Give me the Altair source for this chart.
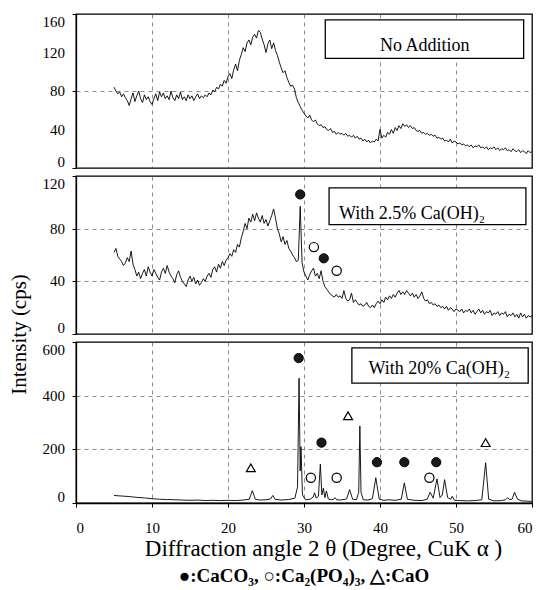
import altair as alt
import pandas as pd

# ---------------- data ----------------
# 2-theta sampling grid for the two amorphous patterns (degrees)
angles = [round(5 + 0.25 * i, 2) for i in range(221)]

# Panel 1: No Addition (cps)
no_addition = [
    84, 80, 77, 79, 74, 77, 73, 70, 65, 72, 78, 69, 75, 80, 72, 68, 76, 71, 74, 69, 66,
    72, 77, 70, 79, 74, 78, 72, 75, 71, 80, 73, 70, 76, 72, 79, 71, 74, 70, 76, 72,
    75, 70, 74, 77, 72, 75, 73, 76, 74, 78, 76, 81, 79, 84, 82, 87, 85, 91, 88, 95,
    98, 93, 102, 108, 101, 112, 118, 125, 121, 130, 133, 128, 136, 139, 135, 143, 141, 134, 128, 120,
    129, 133, 124, 130, 122, 117, 110, 104, 99, 101, 94, 89, 85, 86, 82, 73, 68, 64, 60, 57,
    54, 52, 55, 50, 48, 50, 46, 44, 45, 42, 43, 40, 39, 41, 37, 38, 35, 37, 35, 36,
    34, 36, 33, 34, 32, 34, 31, 33, 30, 31, 28, 30, 27, 29, 26, 28, 27, 30, 28, 40,
    31, 34, 32, 37, 35, 40, 36, 42, 39, 44, 41, 46, 43, 45, 42, 44, 41, 42, 39, 38,
    39, 36, 37, 35, 36, 34, 35, 33, 34, 31, 32, 30, 31, 28, 29, 27, 30, 26, 28, 27,
    25, 26, 24, 25, 23, 24, 22, 24, 21, 23, 22, 24, 21, 22, 20, 22, 19, 21, 20, 22,
    19, 21, 18, 20, 19, 21, 18, 19, 17, 20, 18, 17, 19, 16, 18, 17, 15, 18, 16, 17,
]

# Panel 2: With 2.5% Ca(OH)2 (cps)
with_2_5 = [
    62, 65, 59, 57, 55, 52, 54, 58, 55, 63, 53, 49, 44, 47, 42, 46, 49, 44, 51, 47, 44,
    49, 46, 43, 41, 47, 50, 46, 52, 47, 44, 42, 39, 45, 48, 43, 40, 38, 36, 41, 44,
    40, 43, 38, 41, 37, 39, 42, 40, 44, 46, 43, 49, 51, 47, 53, 50, 55, 52, 56, 58,
    61, 59, 64, 62, 68, 66, 73, 78, 84, 80, 88, 85, 91, 86, 92, 88, 85, 90, 84, 87,
    82, 86, 90, 95, 88, 80, 76, 70, 74, 68, 71, 65, 63, 60, 58, 55, 56, 97, 54, 47,
    44, 41, 45, 48, 50, 44, 46, 42, 48, 40, 36, 34, 32, 30, 29, 28, 30, 28, 29, 27,
    33, 27, 25, 26, 31, 24, 26, 24, 22, 23, 21, 22, 24, 21, 20, 22, 20, 23, 25, 23,
    26, 24, 28, 26, 29, 27, 30, 28, 31, 33, 30, 32, 30, 33, 31, 29, 31, 28, 30, 27,
    29, 32, 27, 25, 26, 23, 24, 22, 23, 21, 22, 20, 21, 19, 21, 18, 20, 19, 17, 19,
    18, 17, 19, 16, 18, 17, 19, 16, 18, 15, 17, 19, 16, 18, 15, 17, 16, 18, 14, 16,
    15, 17, 14, 16, 15, 17, 13, 15, 14, 16, 13, 15, 12, 16, 13, 15, 12, 14, 13, 14,
]

# Panel 3: With 20% Ca(OH)2 (crystalline peaks)
angles_20 = [
    5.0, 6, 7, 8, 9, 10, 11, 12, 13, 14, 15, 16, 17, 18, 19, 20, 21, 22, 22.8, 23.2,
    23.6, 24.2, 25.0, 25.6, 25.9, 26.2, 27, 28, 28.8, 29.15, 29.35, 29.5, 29.6, 29.8,
    30.2, 30.8, 31.2, 31.4, 31.6, 31.9, 32.15, 32.35, 32.55, 32.75, 32.95, 33.2, 33.6,
    33.9, 34.1, 34.3, 34.8, 35.6, 36.0, 36.4, 36.9, 37.2, 37.35, 37.5, 37.8, 38.4, 39.0,
    39.45, 39.9, 40.5, 41.2, 42.0, 42.8, 43.2, 43.6, 44.5, 45.5, 46.2, 46.6, 47.0, 47.5,
    47.9, 48.2, 48.5, 48.9, 49.3, 49.5, 49.8, 50.5, 51.5, 52.5, 53.4, 53.9, 54.3, 55.0,
    56.0, 56.5, 56.8, 57.1, 57.4, 57.7, 58.1, 58.6, 59.2, 59.9,
]
with_20 = [
    28, 26, 24, 21, 19, 16, 14, 13, 12, 11, 10, 11, 9, 10, 9, 10, 9, 11, 14, 46,
    14, 11, 12, 15, 28, 14, 11, 13, 18, 60, 465, 120, 210, 30,
    12, 14, 22, 38, 18, 25, 145, 30, 55, 20, 45, 15, 12,
    14, 20, 12, 11, 15, 50, 14, 12, 40, 287, 40, 12, 11, 16,
    94, 14, 10, 12, 10, 14, 75, 14, 10, 9, 14, 40, 18, 90,
    20, 30, 87, 20, 14, 25, 10, 9, 8, 9, 12, 150, 14, 8,
    9, 12, 20, 12, 15, 40, 14, 8, 7, 6,
]

# phase markers (angle, intensity) per panel
caco3_b = [(29.5, 106), (32.6, 57.5)]
ca3po4_b = [(31.3, 66), (34.3, 48)]
caco3_c = [(29.3, 540), (32.3, 225), (39.6, 152), (43.2, 152), (47.4, 152)]
ca3po4_c = [(30.9, 94), (34.3, 94), (46.5, 94)]
cao_c = [(23.0, 131), (35.8, 325), (53.9, 225)]

# y tick values (grid) and labelled values per panel
yticks_a, ylabels_a = [0, 20, 40, 60, 80, 100, 120, 140, 160], [0, 40, 80, 120, 160]
yticks_b, ylabels_b = [0, 20, 40, 60, 80, 100, 120], [0, 40, 80, 120]
yticks_c, ylabels_c = [0, 100, 200, 300, 400, 500, 600], [0, 200, 400, 600]
xticks = [0, 10, 20, 30, 40, 50, 60]

# labels in boxes: text, x1, x2, y1, y2, text x, text y (data units)
labels = [
    ("No Addition", 32.8, 58.9, 114, 154, 45.9, 127),
    ("With 2.5% Ca(OH)\u2082", 33.3, 59.2, 83, 111, 44.2, 91),
    ("With 20% Ca(OH)\u2082", 36.3, 59.5, 447, 578, 47.8, 499),
]
legend_text = "\u25cf:CaCO\u2083,  \u25cb:Ca\u2082(PO\u2084)\u2083,  \u25b3:CaO"

FONT = "Liberation Serif"
W = 456


def xs():
    return alt.Scale(domain=[0, 60], nice=False)


def ys(ymax):
    return alt.Scale(domain=[0, ymax], nice=False)


def xenc(show):
    if show:
        ax = alt.Axis(values=xticks, grid=True, labels=True, ticks=True,
                      tickSize=4, labelPadding=13, labelFontSize=15,
                      title="Diffraction angle 2 \u03b8 (Degree, CuK \u03b1 )",
                      titleFontSize=23, titleFontWeight="normal", titlePadding=2, titleX=247)
    else:
        ax = alt.Axis(values=xticks, grid=True, labels=False, ticks=False,
                      domain=False, title=None)
    return alt.X("a:Q", scale=xs(), axis=ax)


def yenc(ymax, ticks, title=None, titleY=None):
    kw = dict(values=ticks, grid=True, tickSize=4, labels=False)
    if title:
        kw.update(title=title, titleFontSize=21, titleFontWeight="normal", titleAngle=270,
                  titleX=-47, titleY=titleY, titleBaseline="bottom", titleAlign="center")
    else:
        kw.update(title=None)
    return alt.Y("v:Q", scale=ys(ymax), axis=alt.Axis(**kw))


def ylabel_layers(vals, ymax):
    out = []
    for v in vals:
        base = "top" if v == ymax else ("bottom" if v == 0 else "middle")
        dy = 1 if v == ymax else (2 if v == 0 else 0)
        df = pd.DataFrame({"v": [v], "t": [str(v)]})
        out.append(alt.Chart(df).mark_text(font=FONT, fontSize=15, color="black", align="right",
                                           baseline=base, dy=dy).encode(
            x=alt.value(-11), y=alt.Y("v:Q", scale=ys(ymax)), text="t:N"))
    return out


def box_layers(lbl, ymax):
    t, x1, x2, y1, y2, tx, ty = lbl
    df = pd.DataFrame({"a": [x1], "a2": [x2], "v": [y1], "v2": [y2], "tx": [tx], "ty": [ty], "t": [t]})
    rect = alt.Chart(df).mark_rect(fill="white", stroke="black", strokeWidth=1.3).encode(
        x=alt.X("a:Q", scale=xs()), x2="a2:Q", y=alt.Y("v:Q", scale=ys(ymax)), y2="v2:Q")
    txt = alt.Chart(df).mark_text(font=FONT, fontSize=18, color="black").encode(
        x=alt.X("tx:Q", scale=xs()), y=alt.Y("ty:Q", scale=ys(ymax)), text="t:N")
    return [rect, txt]


def markers(pts, kind, ymax):
    df = pd.DataFrame(pts, columns=["a", "v"])
    if kind == "filled":
        m = alt.Chart(df).mark_point(shape="circle", filled=True, size=85, fill="#1a1a1a",
                                     stroke="black", strokeWidth=1, opacity=1)
    elif kind == "open":
        m = alt.Chart(df).mark_point(shape="circle", filled=True, size=85, fill="white",
                                     stroke="black", strokeWidth=1.2, opacity=1)
    else:
        m = alt.Chart(df).mark_point(shape="triangle-up", filled=True, size=80, fill="white",
                                     stroke="black", strokeWidth=1.2, opacity=1)
    return m.encode(x=alt.X("a:Q", scale=xs()), y=alt.Y("v:Q", scale=ys(ymax)))


# Panel 1
df_a = pd.DataFrame({"a": angles, "v": no_addition})
line_a = alt.Chart(df_a).mark_line(color="black", strokeWidth=0.9).encode(
    x=xenc(False), y=yenc(160, yticks_a))
p1 = alt.layer(line_a, *box_layers(labels[0], 160), *ylabel_layers(ylabels_a, 160)
               ).properties(width=W, height=154)

# Panel 2
df_b = pd.DataFrame({"a": angles, "v": with_2_5})
line_b = alt.Chart(df_b).mark_line(color="black", strokeWidth=0.9).encode(
    x=xenc(False), y=yenc(120, yticks_b, title="Intensity (cps)", titleY=158))
p2 = alt.layer(line_b, *box_layers(labels[1], 120),
               markers(caco3_b, "filled", 120), markers(ca3po4_b, "open", 120),
               *ylabel_layers(ylabels_b, 120)
               ).properties(width=W, height=158)

# Panel 3
df_c = pd.DataFrame({"a": angles_20, "v": with_20})
line_c = alt.Chart(df_c).mark_line(color="black", strokeWidth=0.9).encode(
    x=xenc(True), y=yenc(600, yticks_c))
leg = alt.Chart(pd.DataFrame({"t": [legend_text]})).mark_text(
    font=FONT, fontSize=19, fontWeight="bold", color="black").encode(
    x=alt.value(228), y=alt.value(234), text="t:N")
p3 = alt.layer(line_c, *box_layers(labels[2], 600),
               markers(caco3_c, "filled", 600), markers(ca3po4_c, "open", 600),
               markers(cao_c, "tri", 600), leg, *ylabel_layers(ylabels_c, 600)
               ).properties(width=W, height=161)

chart = alt.vconcat(p1, p2, p3, spacing=8, bounds="flush").properties(
    padding={"left": 7, "top": 12, "right": 4, "bottom": 4},
    background="white",
).configure_view(stroke="black", strokeWidth=1.3).configure_axis(
    labelFont=FONT, titleFont=FONT, labelColor="black", titleColor="black",
    domainColor="black", domainWidth=1.3, tickColor="black",
    gridColor="#333", gridDash=[4, 4], gridWidth=0.7, gridOpacity=0.8
)

chart.save("out.html", embed_options={"renderer": "svg", "actions": False})
